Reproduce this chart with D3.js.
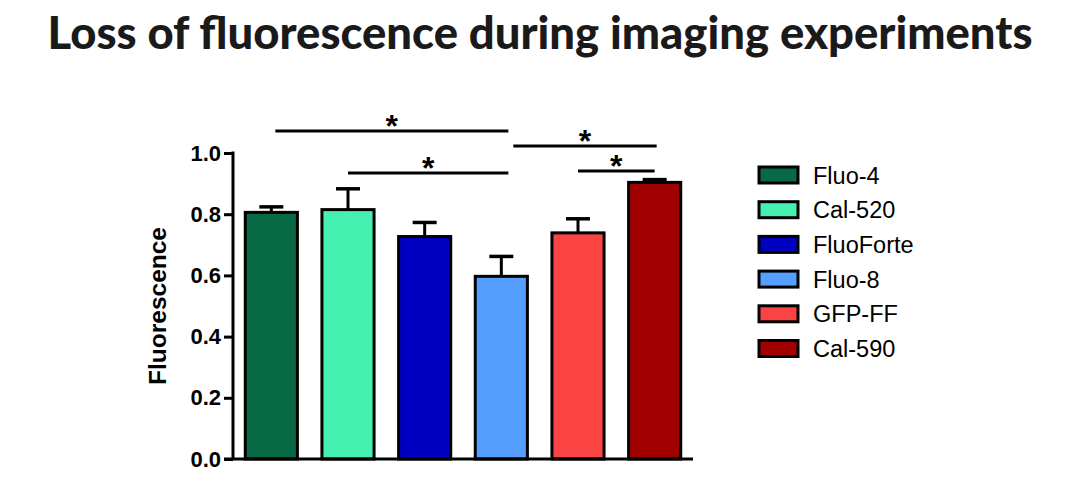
<!DOCTYPE html>
<html>
<head>
<meta charset="utf-8">
<script src="https://cdn.jsdelivr.net/npm/d3@7"></script>
<style>
  html, body { margin: 0; padding: 0; background: #fff; }
  svg { display: block; }
</style>
</head>
<body>
<svg id="chart" width="1080" height="485"></svg>
<script>
// ---- data ----
const categories = ["Fluo-4", "Cal-520", "FluoForte", "Fluo-8", "GFP-FF", "Cal-590"];
const means      = [0.806, 0.815, 0.727, 0.597, 0.739, 0.904];
const errTops    = [0.824, 0.883, 0.773, 0.662, 0.785, 0.913];
const colors     = ["#076a45", "#45f0b0", "#0000c0", "#55a0ff", "#fa4444", "#a00000"];
const yTicks     = [0, 0.2, 0.4, 0.6, 0.8, 1.0];
const sigFrom    = ["Fluo-4", "Cal-520", "Fluo-8", "GFP-FF"];
const sigTo      = ["Fluo-8", "Fluo-8", "Cal-590", "Cal-590"];
const sigLevel   = [1.072, 0.935, 1.023, 0.941];
const sigLabel   = ["*", "*", "*", "*"];
const titleText  = "Loss of fluorescence during imaging experiments";
const yLabelText = "Fluorescence";

// ---- layout ----
const svg = d3.select("#chart");
const axisX = 233, axisBottom = 459, axisTop = 153, axisRight = 693;

const x = d3.scaleBand().domain(categories).range([axisX, axisRight])
  .paddingInner(0.32).paddingOuter(0.16);
const y = d3.scaleLinear().domain([0, 1]).range([axisBottom, axisTop]);

// title
svg.append("text")
  .attr("x", 540).attr("y", 49)
  .attr("text-anchor", "middle")
  .attr("font-family", "Lato, 'Open Sans', sans-serif")
  .attr("font-weight", 900)
  .attr("font-size", 45)
  .attr("fill", "#1a1a1a")
  .attr("textLength", 985)
  .attr("lengthAdjust", "spacingAndGlyphs")
  .text(titleText);

// bars
const g = svg.append("g");
g.selectAll("rect.bar").data(categories).join("rect")
  .attr("class", "bar")
  .attr("x", d => x(d))
  .attr("y", (d, i) => y(means[i]))
  .attr("width", x.bandwidth())
  .attr("height", (d, i) => y(0) - y(means[i]))
  .attr("fill", (d, i) => colors[i])
  .attr("stroke", "#000")
  .attr("stroke-width", 3);

// error bars
const capW = 24;
categories.forEach((c, i) => {
  const cx = x(c) + x.bandwidth() / 2;
  g.append("line").attr("x1", cx).attr("x2", cx)
    .attr("y1", y(means[i])).attr("y2", y(errTops[i]))
    .attr("stroke", "#000").attr("stroke-width", 3);
  g.append("line").attr("x1", cx - capW / 2).attr("x2", cx + capW / 2)
    .attr("y1", y(errTops[i])).attr("y2", y(errTops[i]))
    .attr("stroke", "#000").attr("stroke-width", 3.5);
});

// y axis
const yAxis = d3.axisLeft(y).tickValues(yTicks).tickFormat(d3.format(".1f"))
  .tickSize(9).tickPadding(3);
const ya = svg.append("g").attr("transform", `translate(${axisX},0)`).call(yAxis);
ya.select(".domain").remove();
ya.selectAll(".tick line").attr("stroke", "#000").attr("stroke-width", 3);
ya.selectAll(".tick text")
  .attr("font-family", "Arial, 'Liberation Sans', sans-serif")
  .attr("font-weight", 700).attr("font-size", 22).attr("fill", "#000");
svg.append("line").attr("x1", axisX).attr("x2", axisX)
  .attr("y1", axisTop - 1.5).attr("y2", axisBottom)
  .attr("stroke", "#000").attr("stroke-width", 3);

// x axis line
svg.append("line").attr("x1", axisX - 9).attr("x2", axisRight)
  .attr("y1", axisBottom).attr("y2", axisBottom)
  .attr("stroke", "#000").attr("stroke-width", 3);

// y label
svg.append("text")
  .attr("transform", "translate(166,306) rotate(-90)")
  .attr("text-anchor", "middle")
  .attr("font-family", "Arial, 'Liberation Sans', sans-serif")
  .attr("font-weight", 700).attr("font-size", 24.5).attr("fill", "#000")
  .text(yLabelText);

// significance lines
const nudges = [[4, 7], [0, 7], [12, 2], [0, 0]];
sigFrom.forEach((a, i) => {
  const x1 = x(a) + x.bandwidth() / 2 + nudges[i][0];
  const x2 = x(sigTo[i]) + x.bandwidth() / 2 + nudges[i][1];
  const yy = y(sigLevel[i]);
  svg.append("line").attr("x1", x1).attr("x2", x2).attr("y1", yy).attr("y2", yy)
    .attr("stroke", "#000").attr("stroke-width", 3);
  svg.append("text")
    .attr("x", (x1 + x2) / 2).attr("y", yy + 6)
    .attr("text-anchor", "middle")
    .attr("font-family", "Arial, 'Liberation Sans', sans-serif")
    .attr("font-weight", 700).attr("font-size", 32).attr("fill", "#000")
    .text(sigLabel[i]);
});

// legend
const leg = svg.append("g");
const legX = 759, legY0 = 175, legStep = 34.7;
categories.forEach((c, i) => {
  const yy = legY0 + i * legStep;
  leg.append("rect").attr("x", legX).attr("y", yy - 8)
    .attr("width", 39).attr("height", 16)
    .attr("fill", colors[i]).attr("stroke", "#000").attr("stroke-width", 3);
  leg.append("text").attr("x", 813).attr("y", yy + 8.5)
    .attr("font-family", "Arial, 'Liberation Sans', sans-serif")
    .attr("font-size", 23.5).attr("fill", "#000")
    .text(c);
});
</script>
</body>
</html>
